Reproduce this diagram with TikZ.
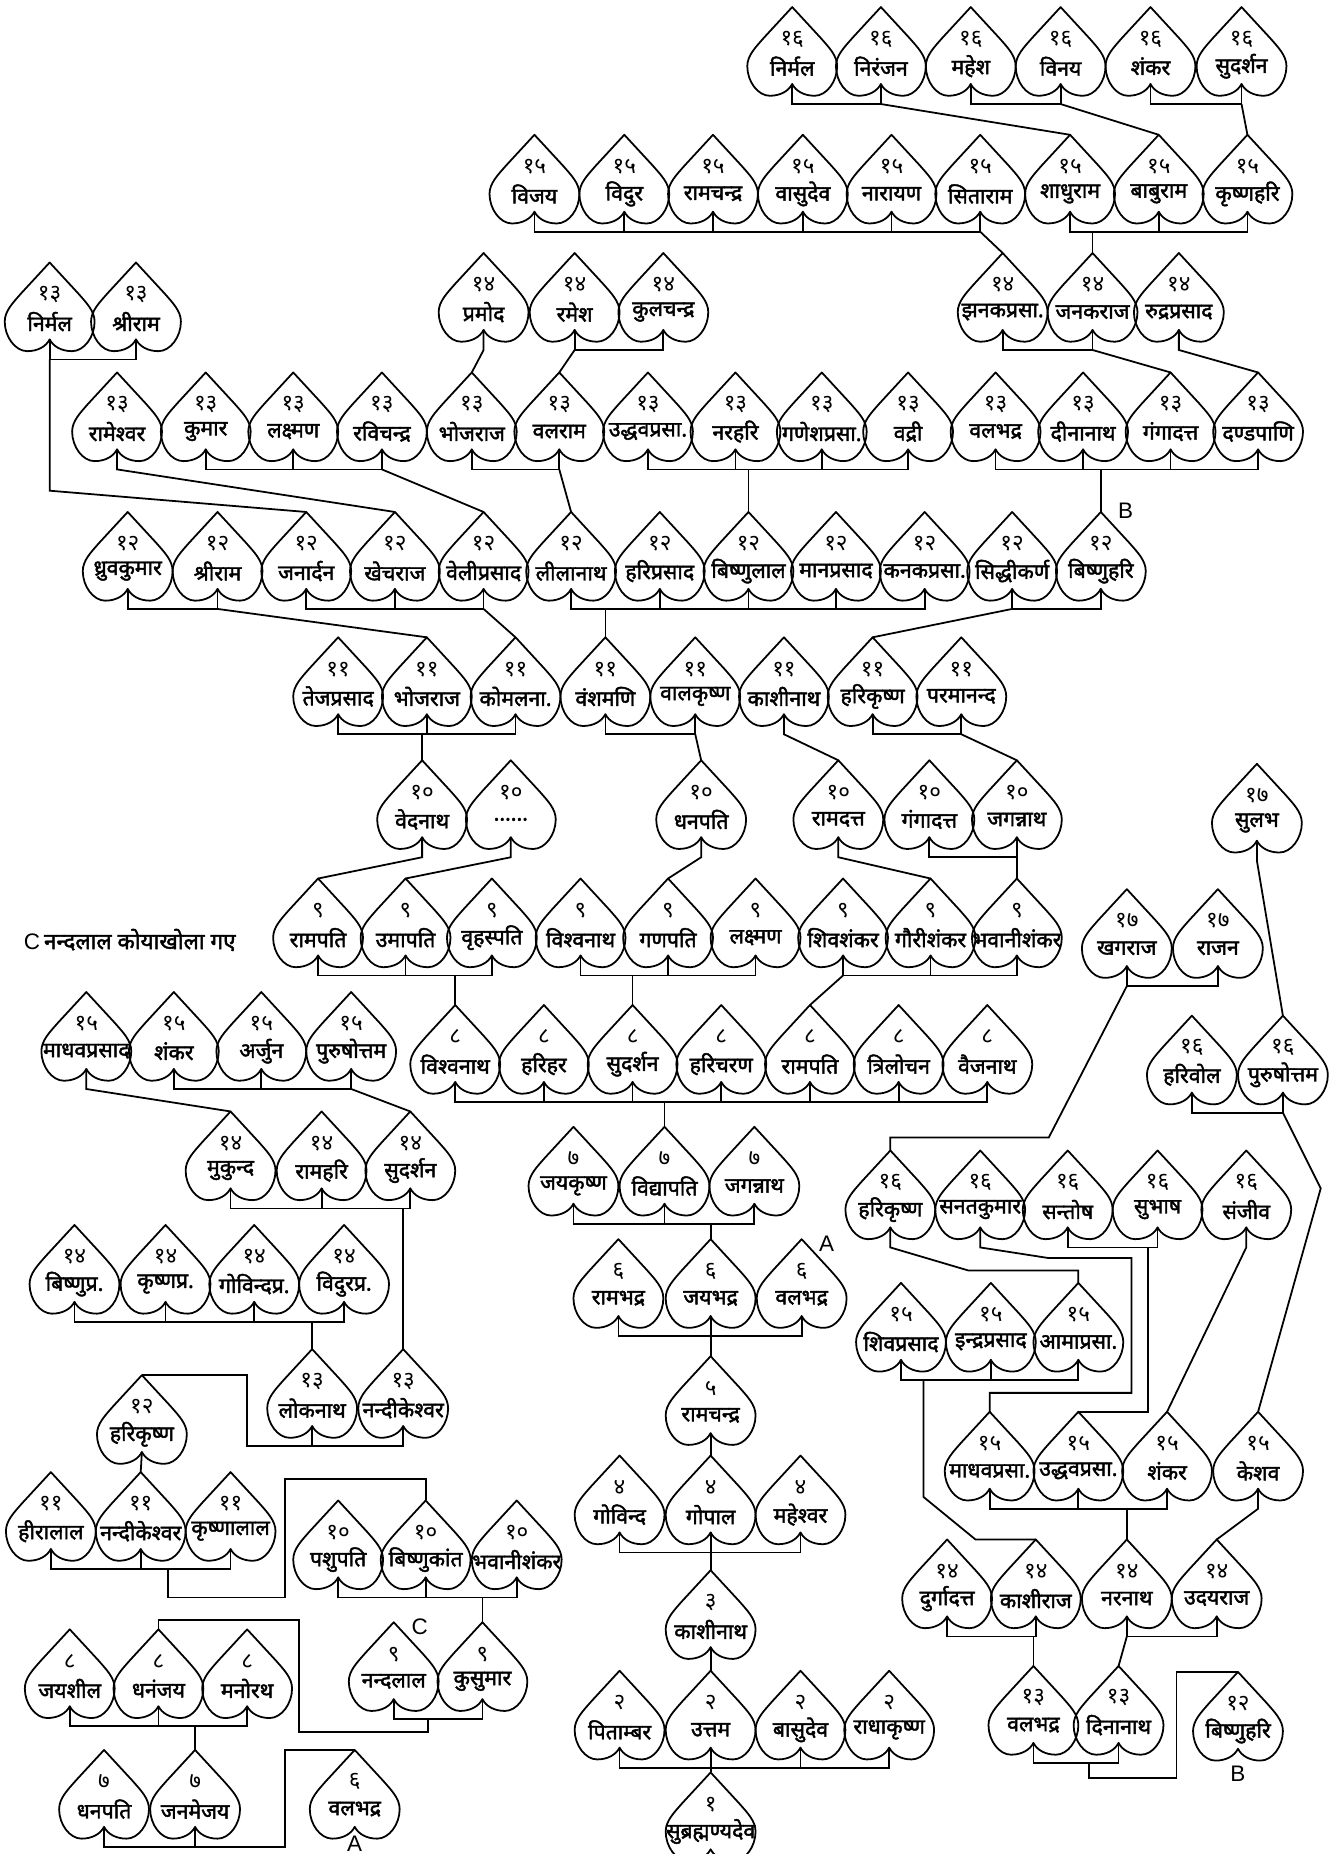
\documentclass[tikz,border=0pt]{standalone}
\usepackage{fontspec}
\newfontfamily\devfont[Script=Devanagari]{Noto Sans}
\newfontfamily\devbold[Script=Devanagari,FakeBold=2]{Noto Sans}
\newfontfamily\latfont{Liberation Sans}
\tikzset{
 leafline/.style={line width=1.5pt, line join=round},
 conn/.style={line width=1.5pt, line join=miter},
 numtxt/.style={font=\devfont\fontsize{19}{21}\selectfont, inner sep=0pt},
 nametxt/.style={font=\devbold\fontsize{18}{20}\selectfont, inner sep=0pt},
 lab/.style={font=\latfont\fontsize{19}{21}\selectfont, inner sep=0pt}
}
\newcommand\leaf[5]{%
 \coordinate (#1-t) at (#2,#3);
 \coordinate (#1-b) at (#2,#3+65);
 \coordinate (#1-k) at (#2,#3+82);
 \draw[leafline,shift={(#2,#3)}] (0,0) -- (-24,26) .. controls (-31,34) and (-38,41) .. (-38,50) .. controls (-38,63) and (-29,75) .. (-19,75) .. controls (-10,75) and (-3,71) .. (0,65) .. controls (3,71) and (10,75) .. (19,75) .. controls (29,75) and (38,63) .. (38,50) .. controls (38,41) and (31,34) .. (24,26) -- cycle;
 \node[numtxt] (#1-n) at (#2,#3+27) {#4};
 \node[nametxt] (#1) at (#2,#3+50) {#5};
}
\newcommand\sibsii[2]{\draw[conn] (#1-b) -- (#1-k) -- (#2-k) -- (#2-b);}
\newcommand\sibs[3]{\sibsii{#1}{#2}\foreach \x in {#3}{\draw[conn] (\x-b) -- (\x-k);}}
\newcommand\vlink[2]{\draw[conn] (#2-t) -- (#2-t |- #1-k);}
\newcommand\dlink[2]{\draw[conn] (#1-k) -- (#2-t);}
\newcommand\slink[2]{\draw[conn] (#1-b) -- (#1-k) -- (#2-t);}
\begin{document}
\begin{tikzpicture}[x=1pt,y=-1pt]
\useasboundingbox (0,0) rectangle (1131,1568);
% row A (16)
\leaf{A1}{670}{6}{१६}{निर्मल}
\leaf{A2}{745}{6}{१६}{निरंजन}
\leaf{A3}{821}{6}{१६}{महेश}
\leaf{A4}{897}{6}{१६}{विनय}
\leaf{A5}{973}{6}{१६}{शंकर}
\leaf{A6}{1050}{6}{१६}{सुदर्शन}
% row B (15)
\leaf{B1}{452}{114}{१५}{विजय}
\leaf{B2}{528}{114}{१५}{विदुर}
\leaf{B3}{603}{114}{१५}{रामचन्द्र}
\leaf{B4}{679}{114}{१५}{वासुदेव}
\leaf{B5}{754}{114}{१५}{नारायण}
\leaf{B6}{829}{114}{१५}{सिताराम}
\leaf{B7}{905}{114}{१५}{शाधुराम}
\leaf{B8}{980}{114}{१५}{बाबुराम}
\leaf{B9}{1055}{114}{१५}{कृष्णहरि}
% row C (14)
\leaf{C1}{409}{214}{१४}{प्रमोद}
\leaf{C2}{486}{214}{१४}{रमेश}
\leaf{C3}{561}{214}{१४}{कुलचन्द्र}
\leaf{C4}{848}{214}{१४}{झनकप्रसा.}
\leaf{C5}{924}{214}{१४}{जनकराज}
\leaf{C6}{997}{214}{१४}{रुद्रप्रसाद}
\leaf{TL1}{42}{222}{१३}{निर्मल}
\leaf{TL2}{115}{222}{१३}{श्रीराम}
% row D (13)
\leaf{D1}{99}{315}{१३}{रामेश्वर}
\leaf{D2}{174}{315}{१३}{कुमार}
\leaf{D3}{248}{315}{१३}{लक्ष्मण}
\leaf{D4}{323}{315}{१३}{रविचन्द्र}
\leaf{D5}{399}{315}{१३}{भोजराज}
\leaf{D6}{473}{315}{१३}{वलराम}
\leaf{D7}{548}{315}{१३}{उद्धवप्रसा.}
\leaf{D8}{622}{315}{१३}{नरहरि}
\leaf{D9}{695}{315}{१३}{गणेशप्रसा.}
\leaf{D10}{768}{315}{१३}{वद्री}
\leaf{D11}{842}{315}{१३}{वलभद्र}
\leaf{D12}{916}{315}{१३}{दीनानाथ}
\leaf{D13}{990}{315}{१३}{गंगादत्त}
\leaf{D14}{1064}{315}{१३}{दण्डपाणि}
% row E (12)
\leaf{E1}{108}{433}{१२}{ध्रुवकुमार}
\leaf{E2}{184}{433}{१२}{श्रीराम}
\leaf{E3}{259}{433}{१२}{जनार्दन}
\leaf{E4}{334}{433}{१२}{खेचराज}
\leaf{E5}{409}{433}{१२}{वेलीप्रसाद}
\leaf{E6}{483}{433}{१२}{लीलानाथ}
\leaf{E7}{558}{433}{१२}{हरिप्रसाद}
\leaf{E8}{633}{433}{१२}{बिष्णुलाल}
\leaf{E9}{707}{433}{१२}{मानप्रसाद}
\leaf{E10}{782}{433}{१२}{कनकप्रसा.}
\leaf{E11}{856}{433}{१२}{सिद्धीकर्ण}
\leaf{E12}{931}{433}{१२}{बिष्णुहरि}
% row F (11)
\leaf{F1}{286}{539}{११}{तेजप्रसाद}
\leaf{F2}{361}{539}{११}{भोजराज}
\leaf{F3}{436}{539}{११}{कोमलना.}
\leaf{F4}{512}{539}{११}{वंशमणि}
\leaf{F5}{588}{539}{११}{वालकृष्ण}
\leaf{F6}{663}{539}{११}{काशीनाथ}
\leaf{F7}{738}{539}{११}{हरिकृष्ण}
\leaf{F8}{813}{539}{११}{परमानन्द}
% row G (10)
\leaf{G1}{357}{643}{१०}{वेदनाथ}
\leaf{G2}{432}{643}{१०}{......}
\leaf{G3}{593}{643}{१०}{धनपति}
\leaf{G4}{709}{643}{१०}{रामदत्त}
\leaf{G5}{786}{643}{१०}{गंगादत्त}
\leaf{G6}{860}{643}{१०}{जगन्नाथ}
\leaf{SUL}{1063}{646}{१७}{सुलभ}
% row H (9)
\leaf{H1}{269}{743}{९}{रामपति}
\leaf{H2}{343}{743}{९}{उमापति}
\leaf{H3}{416}{743}{९}{वृहस्पति}
\leaf{H4}{491}{743}{९}{विश्वनाथ}
\leaf{H5}{565}{743}{९}{गणपति}
\leaf{H6}{639}{743}{९}{लक्ष्मण}
\leaf{H7}{713}{743}{९}{शिवशंकर}
\leaf{H8}{787}{743}{९}{गौरीशंकर}
\leaf{H9}{860}{743}{९}{भवानीशंकर}
\leaf{KH1}{953}{752}{१७}{खगराज}
\leaf{KH2}{1030}{752}{१७}{राजन}
% row I
\leaf{I1}{73}{839}{१५}{माधवप्रसाद}
\leaf{I2}{147}{839}{१५}{शंकर}
\leaf{I3}{221}{839}{१५}{अर्जुन}
\leaf{I4}{297}{839}{१५}{पुरुषोत्तम}
\leaf{P1}{385}{850}{८}{विश्वनाथ}
\leaf{P2}{460}{850}{८}{हरिहर}
\leaf{P3}{535}{850}{८}{सुदर्शन}
\leaf{P4}{610}{850}{८}{हरिचरण}
\leaf{P5}{685}{850}{८}{रामपति}
\leaf{P6}{760}{850}{८}{त्रिलोचन}
\leaf{P7}{835}{850}{८}{वैजनाथ}
\leaf{R1}{1008}{859}{१६}{हरिवोल}
\leaf{R2}{1085}{859}{१६}{पुरुषोत्तम}
% row J
\leaf{J1}{195}{940}{१४}{मुकुन्द}
\leaf{J2}{272}{940}{१४}{रामहरि}
\leaf{J3}{347}{940}{१४}{सुदर्शन}
\leaf{S1}{485}{953}{७}{जयकृष्ण}
\leaf{S2}{562}{953}{७}{विद्यापति}
\leaf{S3}{638}{953}{७}{जगन्नाथ}
\leaf{T1}{753}{973}{१६}{हरिकृष्ण}
\leaf{T2}{829}{973}{१६}{सनतकुमार}
\leaf{T3}{903}{973}{१६}{सन्तोष}
\leaf{T4}{979}{973}{१६}{सुभाष}
\leaf{T5}{1054}{973}{१६}{संजीव}
% row K
\leaf{K1}{63}{1036}{१४}{बिष्णुप्र.}
\leaf{K2}{140}{1036}{१४}{कृष्णप्र.}
\leaf{K3}{215}{1036}{१४}{गोविन्दप्र.}
\leaf{K4}{291}{1036}{१४}{विदुरप्र.}
\leaf{U1}{523}{1048}{६}{रामभद्र}
\leaf{U2}{601}{1048}{६}{जयभद्र}
\leaf{U3}{678}{1048}{६}{वलभद्र}
\leaf{V1}{762}{1085}{१५}{शिवप्रसाद}
\leaf{V2}{838}{1085}{१५}{इन्द्रप्रसाद}
\leaf{V3}{912}{1085}{१५}{आमाप्रसा.}
% row L
\leaf{L1}{264}{1141}{१३}{लोकनाथ}
\leaf{L2}{341}{1141}{१३}{नन्दीकेश्वर}
\leaf{HK}{120}{1163}{१२}{हरिकृष्ण}
\leaf{FIVE}{601}{1147}{५}{रामचन्द्र}
\leaf{W1}{837}{1194}{१५}{माधवप्रसा.}
\leaf{W2}{912}{1194}{१५}{उद्धवप्रसा.}
\leaf{W3}{987}{1194}{१५}{शंकर}
\leaf{W4}{1064}{1194}{१५}{केशव}
% row M
\leaf{M1}{43}{1245}{११}{हीरालाल}
\leaf{M2}{119}{1245}{११}{नन्दीकेश्वर}
\leaf{M3}{195}{1245}{११}{कृष्णालाल}
\leaf{N1}{286}{1269}{१०}{पशुपति}
\leaf{N2}{360}{1269}{१०}{बिष्णुकांत}
\leaf{N3}{437}{1269}{१०}{भवानीशंकर}
\leaf{Q1}{524}{1231}{४}{गोविन्द}
\leaf{Q2}{601}{1231}{४}{गोपाल}
\leaf{Q3}{677}{1231}{४}{महेश्वर}
\leaf{X1}{801}{1302}{१४}{दुर्गादत्त}
\leaf{X2}{876}{1302}{१४}{काशीराज}
\leaf{X3}{953}{1302}{१४}{नरनाथ}
\leaf{X4}{1029}{1302}{१४}{उदयराज}
% row N
\leaf{Y1}{333}{1372}{९}{नन्दलाल}
\leaf{Y2}{408}{1372}{९}{कुसुमार}
\leaf{Z1}{59}{1378}{८}{जयशील}
\leaf{Z2}{134}{1378}{८}{धनंजय}
\leaf{Z3}{209}{1378}{८}{मनोरथ}
\leaf{THREE}{601}{1328}{३}{काशीनाथ}
\leaf{BB1}{874}{1409}{१३}{वलभद्र}
\leaf{BB2}{946}{1409}{१३}{दिनानाथ}
\leaf{BH}{1047}{1414}{१२}{बिष्णुहरि}
% row O
\leaf{O1}{524}{1413}{२}{पिताम्बर}
\leaf{O2}{601}{1413}{२}{उत्तम}
\leaf{O3}{677}{1413}{२}{बासुदेव}
\leaf{O4}{752}{1413}{२}{राधाकृष्ण}
\leaf{DP}{88}{1480}{७}{धनपति}
\leaf{JM}{165}{1480}{७}{जनमेजय}
\leaf{VB}{300}{1480}{६}{वलभद्र}
\leaf{ROOT}{601}{1499}{१}{सुब्रह्मण्यदेव}
% labels
\node[lab] (lbB1) at (952,432) {B};
\node[lab] (lbA1) at (699,1052) {A};
\node[lab,anchor=north] (lbA2) at (300,1553) {A};
\node[lab] (lbB2) at (1047,1500) {B};
\node[lab] (lbC1) at (355,1376) {C};
\node[anchor=west,inner sep=0pt] (cnote) at (20,795) {{\latfont\fontsize{19}{21}\selectfont C}\ {\devbold\fontsize{19}{21}\selectfont नन्दलाल कोयाखोला गए}};
% ---- connectors, centre tree ----
\sibsii{A1}{A2} \dlink{A2}{B7}
\sibsii{A3}{A4} \dlink{A4}{B8}
\sibsii{A5}{A6} \dlink{A6}{B9}
\sibs{B1}{B6}{B2,B3,B4,B5} \dlink{B6}{C4}
\sibs{B7}{B9}{B8} \vlink{B7}{C5}
\slink{C1}{D5}
\sibsii{C2}{C3} \dlink{C2}{D6}
\sibsii{C4}{C5} \dlink{C5}{D13}
\slink{C6}{D14}
\sibsii{TL1}{TL2}
\coordinate (j10) at (42,415);
\draw[conn] (TL1-k) -- (j10) -- (E3-t);
\slink{D1}{E4}
\sibs{D2}{D4}{D3} \dlink{D4}{E5}
\sibsii{D5}{D6} \dlink{D6}{E6}
\sibs{D7}{D10}{D8,D9} \vlink{D7}{E8}
\sibs{D11}{D14}{D12,D13} \vlink{D11}{E12}
\sibsii{E1}{E2} \dlink{E2}{F2}
\sibs{E3}{E5}{E4} \dlink{E5}{F3}
\sibs{E6}{E10}{E7,E8,E9} \vlink{E6}{F4}
\sibsii{E11}{E12} \dlink{E11}{F7}
\sibs{F1}{F3}{F2} \vlink{F1}{G1}
\sibsii{F4}{F5} \dlink{F5}{G3}
\slink{F6}{G4}
\sibsii{F7}{F8} \dlink{F8}{G6}
\slink{G1}{H1}
\slink{G2}{H2}
\slink{G3}{H5}
\slink{G4}{H8}
\sibsii{G5}{G6} \dlink{G6}{H9}
\sibs{H1}{H3}{H2} \vlink{H1}{P1}
\sibs{H4}{H6}{H5} \vlink{H4}{P3}
\sibs{H7}{H9}{H8} \dlink{H7}{P5}
\sibs{P1}{P7}{P2,P3,P4,P5,P6} \vlink{P1}{S2}
\sibs{S1}{S3}{S2} \vlink{S1}{U2}
\sibs{U1}{U3}{U2} \vlink{U1}{FIVE}
\draw[conn] (FIVE-b) -- (Q2-t);
\sibs{Q1}{Q3}{Q2} \vlink{Q1}{THREE}
\draw[conn] (THREE-b) -- (O2-t);
\sibs{O1}{O4}{O2,O3} \vlink{O1}{ROOT}
% ---- left ----
\slink{I1}{J1}
\sibs{I2}{I4}{I3} \dlink{I4}{J3}
\sibs{J1}{J3}{J2} \vlink{J1}{L2}
\sibs{K1}{K4}{K2,K3} \vlink{K1}{L1}
\sibsii{L1}{L2}
\coordinate (q43a) at (209,1163);
\coordinate (q43b) at (209,1223);
\draw[conn] (HK-t) -- (q43a) -- (q43b) -- (L1-k);
\draw[conn] (HK-b) -- (M2-t);
\sibs{M1}{M3}{M2}
\coordinate (q45a) at (142,1327);
\coordinate (q45b) at (142,1351);
\coordinate (q45c) at (241,1351);
\coordinate (q45d) at (241,1251);
\coordinate (q45e) at (360,1251);
\draw[conn] (q45a) -- (q45b) -- (q45c) -- (q45d) -- (q45e) -- (N2-t);
\sibs{N1}{N3}{N2} \vlink{N1}{Y2}
\sibsii{Y1}{Y2}
\coordinate (q47a) at (362,1454);
\coordinate (q47b) at (362,1465);
\coordinate (q47c) at (253,1465);
\coordinate (q47d) at (253,1370);
\coordinate (q47e) at (134,1370);
\draw[conn] (q47a) -- (q47b) -- (q47c) -- (q47d) -- (q47e) -- (Z2-t);
\sibs{Z1}{Z3}{Z2} \vlink{Z1}{JM}
\sibsii{DP}{JM}
\coordinate (q49a) at (241,1562);
\coordinate (q49b) at (241,1480);
\draw[conn] (JM-k) -- (q49a) -- (q49b) -- (VB-t);
% ---- right ----
\slink{SUL}{R2}
\sibsii{KH1}{KH2}
\coordinate (q51a) at (887,962);
\coordinate (q51b) at (753,962);
\draw[conn] (KH1-k) -- (q51a) -- (q51b) -- (T1-t);
\sibsii{R1}{R2}
\coordinate (q52) at (1117,1005);
\draw[conn] (R2-k) -- (q52) -- (W4-t);
\coordinate (q53a) at (819,1074.5);
\coordinate (q53b) at (912,1074.5);
\draw[conn] (T1-b) -- (T1-k) -- (q53a) -- (q53b) -- (V3-t);
\coordinate (q54a) at (887,1064);
\coordinate (q54b) at (957,1064);
\coordinate (q54c) at (957,1178);
\coordinate (q54d) at (837,1178);
\draw[conn] (T2-b) -- (T2-k) -- (q54a) -- (q54b) -- (q54c) -- (q54d) -- (W1-t);
\sibsii{T3}{T4}
\coordinate (q55a) at (971,1055);
\coordinate (q55b) at (971,1194);
\draw[conn] (q55a) -- (q55b) -- (W2-t);
\slink{T5}{W3}
\sibs{V1}{V3}{V2}
\coordinate (q57a) at (781,1167);
\coordinate (q57b) at (781,1266);
\coordinate (q57c) at (825,1302);
\draw[conn] (q57a) -- (q57b) -- (q57c) -- (X2-t);
\sibs{W1}{W3}{W2} \vlink{W1}{X3}
\slink{W4}{X4}
\sibsii{X1}{X2} \vlink{X1}{BB1}
\sibsii{X3}{X4} \dlink{X3}{BB2}
\sibsii{BB1}{BB2}
\coordinate (q62a) at (921,1491);
\coordinate (q62b) at (921,1503.5);
\coordinate (q62c) at (995,1503.5);
\coordinate (q62d) at (995,1414);
\draw[conn] (q62a) -- (q62b) -- (q62c) -- (q62d) -- (BH-t);
\end{tikzpicture}
\end{document}
